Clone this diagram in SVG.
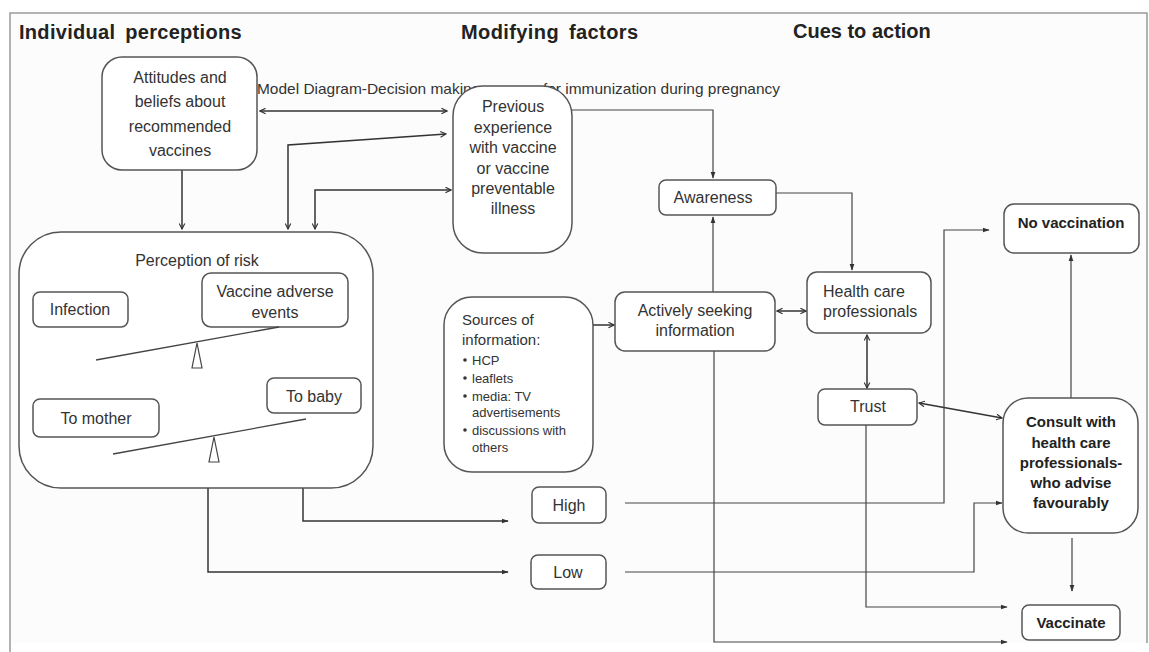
<svg xmlns="http://www.w3.org/2000/svg" width="1149" height="652" viewBox="0 0 1149 652">
<style>
.box{fill:#fff;stroke:#555;stroke-width:1.5}
.t{font-family:"Liberation Sans",Arial,sans-serif;font-size:16px;fill:#333;text-anchor:middle}
.b{font-weight:bold;font-size:15px;fill:#222}
.h{font-family:"Liberation Sans",Arial,sans-serif;font-size:20px;font-weight:bold;fill:#222}
.s{font-family:"Liberation Sans",Arial,sans-serif;font-size:13px;fill:#333}
.c{fill:none;stroke:#333;stroke-width:1.5}
.c2{fill:none;stroke:#444;stroke-width:1.2}
.sl{fill:none;stroke:#444;stroke-width:1.3}
</style>
<defs>
<marker id="a" viewBox="0 0 10 10" refX="9" refY="5" markerWidth="7" markerHeight="7" markerUnits="userSpaceOnUse" orient="auto-start-reverse">
<path d="M1,1 L9,5 L1,9" fill="none" stroke="#333" stroke-width="1.6"/>
</marker>
<marker id="f" viewBox="0 0 10 10" refX="9" refY="5" markerWidth="7" markerHeight="7" markerUnits="userSpaceOnUse" orient="auto-start-reverse">
<path d="M0,1.5 L10,5 L0,8.5 Z" fill="#333"/>
</marker>
</defs>
<rect x="10" y="13" width="1137" height="630" fill="#fcfcfc"/>
<path d="M10,652 V13 H1147 V643" fill="none" stroke="#999" stroke-width="1.5"/>
<text class="h" x="19" y="39" word-spacing="4" letter-spacing="0.3">Individual perceptions</text>
<text class="h" x="461" y="39" word-spacing="4" letter-spacing="0.4">Modifying factors</text>
<text class="h" x="793" y="38">Cues to action</text>
<text x="257" y="94" font-family="Liberation Sans, Arial, sans-serif" font-size="14.5" fill="#333" textLength="523" lengthAdjust="spacingAndGlyphs">Model Diagram-Decision making process for immunization during pregnancy</text>

<g id="connectors">
<line class="c" x1="260" y1="111" x2="447" y2="111" marker-start="url(#a)" marker-end="url(#a)"/>
<polyline class="c" points="446,134 288,145 288,229" marker-start="url(#a)" marker-end="url(#a)"/>
<polyline class="c" points="451,190 315,190 315,229" marker-start="url(#a)" marker-end="url(#a)"/>
<line class="c" x1="182" y1="170" x2="182" y2="229" marker-end="url(#a)"/>
<polyline class="c2" points="572,110 713,110 713,178" marker-end="url(#f)"/>
<line class="c2" x1="713" y1="292" x2="713" y2="217" marker-end="url(#f)"/>
<polyline class="c2" points="776,193 852,193 852,270" marker-end="url(#f)"/>
<line class="c" x1="777" y1="311" x2="806" y2="311" marker-start="url(#a)" marker-end="url(#a)"/>
<line class="c" x1="593" y1="325" x2="614" y2="325" marker-end="url(#a)"/>
<line class="c" x1="867" y1="335" x2="867" y2="388" marker-start="url(#a)" marker-end="url(#a)"/>
<line class="c" x1="919" y1="403" x2="1002" y2="418" marker-start="url(#a)" marker-end="url(#a)"/>
<line class="c2" x1="1071" y1="398" x2="1071" y2="255" marker-end="url(#f)"/>
<polyline class="c" points="303,488 303,521 508,521" marker-end="url(#f)"/>
<polyline class="c" points="208,488 208,572 508,572" marker-end="url(#f)"/>
<polyline class="c2" points="625,503 944,503 944,230 989,230" marker-end="url(#f)"/>
<polyline class="c2" points="625,572 974,572 974,503 1002,503" marker-end="url(#f)"/>
<polyline class="c2" points="866,425 866,607 1007,607" marker-end="url(#f)"/>
<polyline class="c2" points="714,351 714,642 1007,642" marker-end="url(#f)"/>
<line class="c2" x1="1072" y1="538" x2="1072" y2="591" marker-end="url(#f)"/>
</g>

<g id="attitudes">
<rect class="box" x="102" y="57" width="155" height="113" rx="20"/>
<text class="t" x="180" y="83">Attitudes and</text>
<text class="t" x="180" y="107">beliefs about</text>
<text class="t" x="180" y="132">recommended</text>
<text class="t" x="180" y="156">vaccines</text>
</g>
<g id="previous">
<rect class="box" x="453" y="86" width="119" height="167" rx="30"/>
<text class="t" x="513" y="112">Previous</text>
<text class="t" x="513" y="133">experience</text>
<text class="t" x="513" y="153">with vaccine</text>
<text class="t" x="513" y="174">or vaccine</text>
<text class="t" x="513" y="194">preventable</text>
<text class="t" x="513" y="214">illness</text>
</g>
<g id="perception">
<rect class="box" x="19" y="232" width="354" height="256" rx="42"/>
<text class="t" x="197" y="266">Perception of risk</text>
</g>
<g id="infection">
<rect class="box" x="33" y="292" width="95" height="35" rx="7"/>
<text class="t" x="80" y="315">Infection</text>
</g>
<g id="adverse">
<rect class="box" x="202" y="273" width="146" height="54" rx="9"/>
<text class="t" x="275" y="297">Vaccine adverse</text>
<text class="t" x="275" y="318">events</text>
</g>
<g id="seesaw1">
<line class="sl" x1="96" y1="360" x2="279" y2="327"/>
<path d="M197,343 L202,368 L192,368 Z" fill="#fff" stroke="#444" stroke-width="1.2"/>
</g>
<g id="mother">
<rect class="box" x="33" y="399" width="126" height="38" rx="7"/>
<text class="t" x="96" y="424">To mother</text>
</g>
<g id="baby">
<rect class="box" x="267" y="378" width="94" height="35" rx="7"/>
<text class="t" x="314" y="402">To baby</text>
</g>
<g id="seesaw2">
<line class="sl" x1="113" y1="454" x2="306" y2="419"/>
<path d="M214,437 L219,462 L209,462 Z" fill="#fff" stroke="#444" stroke-width="1.2"/>
</g>
<g id="awareness">
<rect class="box" x="659" y="180" width="117" height="35" rx="7"/>
<text class="t" x="713" y="203">Awareness</text>
</g>
<g id="sources">
<rect class="box" x="444" y="297" width="149" height="175" rx="28"/>
<text class="t" x="462" y="325" style="text-anchor:start;font-size:15px">Sources of</text>
<text class="t" x="462" y="345" style="text-anchor:start;font-size:15px">information:</text>
<g class="s">
<circle cx="465" cy="360" r="1.8" fill="#333"/><text x="472" y="365">HCP</text>
<circle cx="465" cy="378" r="1.8" fill="#333"/><text x="472" y="383">leaflets</text>
<circle cx="465" cy="396" r="1.8" fill="#333"/><text x="472" y="401">media: TV</text>
<text x="472" y="417">advertisements</text>
<circle cx="465" cy="430" r="1.8" fill="#333"/><text x="472" y="435">discussions with</text>
<text x="472" y="452">others</text>
</g>
</g>
<g id="actively">
<rect class="box" x="615" y="292" width="160" height="59" rx="10"/>
<text class="t" x="695" y="316">Actively seeking</text>
<text class="t" x="695" y="336">information</text>
</g>
<g id="hcp">
<rect class="box" x="807" y="272" width="124" height="61" rx="10"/>
<text class="t" x="823" y="297" style="text-anchor:start">Health care</text>
<text class="t" x="823" y="317" style="text-anchor:start">professionals</text>
</g>
<g id="trust">
<rect class="box" x="818" y="389" width="99" height="36" rx="7"/>
<text class="t" x="868" y="412">Trust</text>
</g>
<g id="novacc">
<rect class="box" x="1004" y="204" width="135" height="49" rx="10"/>
<text class="t b" x="1071" y="228">No vaccination</text>
</g>
<g id="consult">
<rect class="box" x="1003" y="398" width="135" height="135" rx="25"/>
<text class="t b" x="1071" y="427">Consult with</text>
<text class="t b" x="1071" y="448">health care</text>
<text class="t b" x="1071" y="468">professionals-</text>
<text class="t b" x="1071" y="488">who advise</text>
<text class="t b" x="1071" y="508">favourably</text>
</g>
<g id="vaccinate">
<rect class="box" x="1022" y="605" width="98" height="35" rx="7"/>
<text class="t b" x="1071" y="628">Vaccinate</text>
</g>
<g id="high">
<rect class="box" x="532" y="487" width="74" height="36" rx="7"/>
<text class="t" x="569" y="511">High</text>
</g>
<g id="low">
<rect class="box" x="531" y="555" width="75" height="34" rx="7"/>
<text class="t" x="568" y="578">Low</text>
</g>
</svg>
